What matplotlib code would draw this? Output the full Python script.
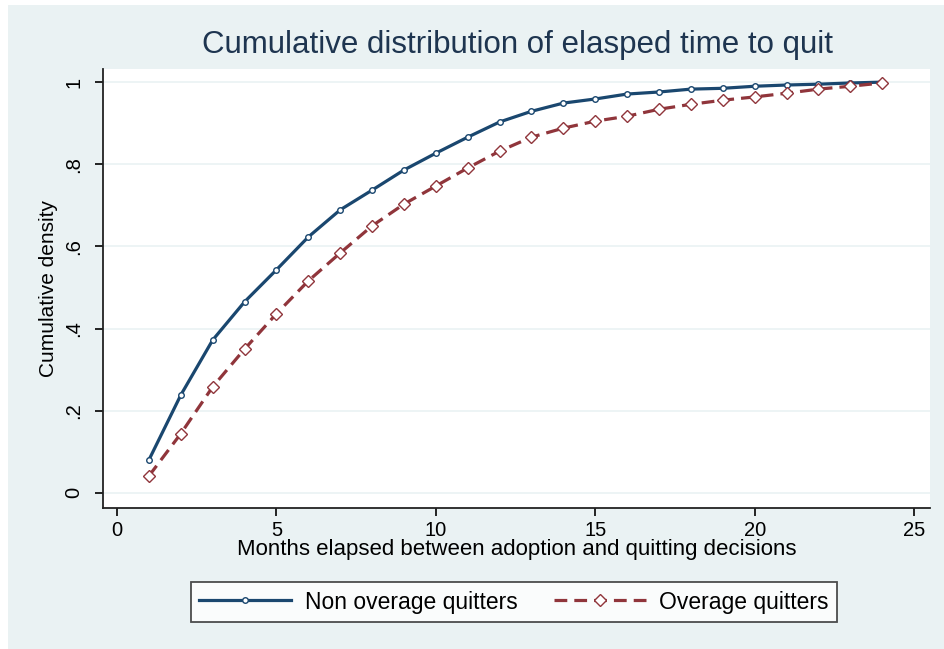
import numpy as np
import matplotlib.pyplot as plt
from matplotlib.patches import Rectangle

plt.rcParams['font.family'] = ['Liberation Sans', 'DejaVu Sans']

# Months elapsed
months = list(range(1, 25))

# Cumulative density, non overage quitters
non_overage = [0.080, 0.238, 0.372, 0.465, 0.543, 0.623, 0.689, 0.737,
               0.786, 0.827, 0.866, 0.903, 0.929, 0.949, 0.959, 0.971,
               0.976, 0.983, 0.985, 0.990, 0.993, 0.995, 0.998, 1.000]

# Cumulative density, overage quitters
overage = [0.041, 0.144, 0.258, 0.350, 0.436, 0.516, 0.584, 0.650,
           0.703, 0.747, 0.791, 0.832, 0.866, 0.888, 0.905, 0.917,
           0.934, 0.946, 0.956, 0.964, 0.973, 0.983, 0.990, 0.998]

x_ticks = [0, 5, 10, 15, 20, 25]
y_ticks = [0, 0.2, 0.4, 0.6, 0.8, 1.0]
y_ticklabels = ['0', '.2', '.4', '.6', '.8', '1']

bg = '#eaf2f3'
navy = '#1a476f'
maroon = '#90353b'

fig = plt.figure(figsize=(9.45, 6.49), dpi=100, facecolor='white')
# outer Stata-like background panel
fig.patches.append(Rectangle((8 / 945, 0), 1, 1 - 5 / 649, transform=fig.transFigure,
                             facecolor=bg, edgecolor='none', zorder=-1))

ax = fig.add_axes([103 / 945, 1 - 508 / 649, (930 - 103) / 945, (508 - 69) / 649])
ax.set_facecolor('white')

ax.plot(months, non_overage, color=navy, lw=2.3, marker='o', ms=4,
        mfc='white', mec=navy, mew=1.0, label='Non overage quitters')
ax.plot(months, overage, color=maroon, lw=2.3, ls=(0, (4, 2.2)), marker='D', ms=6,
        mfc='white', mec=maroon, mew=1.0, label='Overage quitters')

ax.set_xlim(-0.44, 25.5)
ax.set_ylim(-0.037, 1.032)
ax.set_xticks(x_ticks)
ax.set_yticks(y_ticks)
ax.set_yticklabels(y_ticklabels, rotation=90, va='center')
ax.tick_params(axis='both', labelsize=14.5, colors='black', length=6, width=1.2)
ax.tick_params(axis='x', pad=3)
ax.tick_params(axis='y', pad=8)

for s in ['top', 'right']:
    ax.spines[s].set_visible(False)
for s in ['left', 'bottom']:
    ax.spines[s].set_linewidth(1.3)
    ax.spines[s].set_color('#222222')

ax.grid(axis='y', color=bg, lw=1.2)
ax.set_axisbelow(True)

ax.set_xlabel('Months elapsed between adoption and quitting decisions', fontsize=16, labelpad=0)
ax.set_ylabel('Cumulative density', fontsize=15, labelpad=5)
fig.text(518 / 945, 1 - 45 / 649, 'Cumulative distribution of elasped time to quit',
         fontsize=22.5, color='#1e3550', ha='center', va='center')

leg = fig.legend(loc='center', bbox_to_anchor=(514 / 945, 1 - 602 / 649), ncol=2,
                 fontsize=16.5, frameon=True, fancybox=False, edgecolor='#222222',
                 handlelength=4.0, columnspacing=1.6, handletextpad=0.6, borderpad=0.35)
leg.get_frame().set_linewidth(1.3)

fig.savefig('out.png', dpi=100, facecolor=fig.get_facecolor())
